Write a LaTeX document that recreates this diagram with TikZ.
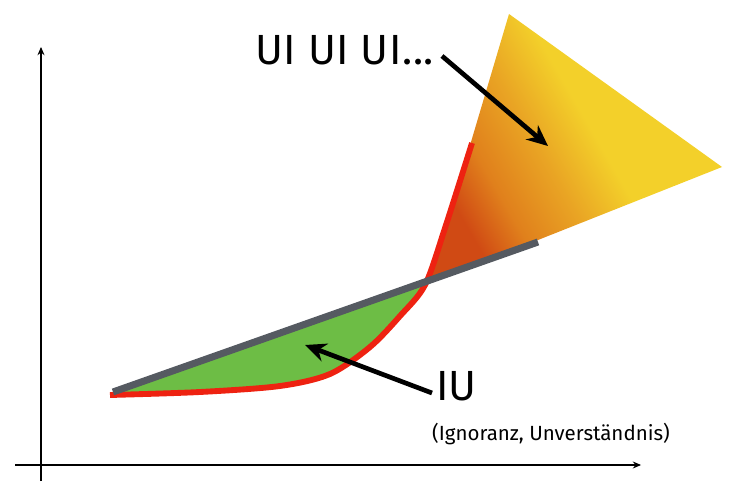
\documentclass[tikz,border=0pt]{standalone}
\usepackage{fontspec}
\setmainfont{Fira Sans}
\usetikzlibrary{arrows.meta, positioning, shadings}
\definecolor{CurveRed}{HTML}{EE2211}
\definecolor{LineGray}{HTML}{555A61}
\definecolor{AreaGreen}{HTML}{6DBD45}
\definecolor{HotYellow}{HTML}{F3D02A}
\definecolor{HotOrange}{HTML}{E9A424}
\definecolor{HotDeep}{HTML}{E0801C}
\definecolor{HotRed}{HTML}{D04A14}
\pgfdeclarehorizontalshading{hotzone}{100bp}{color(0bp)=(HotRed);
  color(26bp)=(HotRed); color(34bp)=(HotDeep); color(44bp)=(HotOrange);
  color(54bp)=(HotYellow); color(100bp)=(HotYellow)}

\begin{document}
\begin{tikzpicture}[x=0.03cm, y=-0.03cm, >=Stealth,
  axis/.style={-{Stealth[length=7pt, width=6pt]}, line width=0.9pt},
  pointer/.style={-{Stealth[length=18pt, width=16pt]}, line width=4pt, black},
  biglabel/.style={inner sep=0pt, font=\fontsize{36}{40}\selectfont},
  spacedlabel/.style={inner sep=0pt,
    font=\fontsize{36}{40}\selectfont\addfontfeatures{LetterSpace=1.5}},
  sublabel/.style={inner sep=0pt, font=\fontsize{17.5}{21}\selectfont}]
  \useasboundingbox (0,0) rectangle (731,482);

  % axes
  \coordinate (origin) at (41,465);
  \coordinate (ytop) at (41,47);
  \coordinate (ybot) at (41,481);
  \coordinate (xleft) at (15,465);
  \coordinate (xright) at (641,465);
  \draw[axis] (ybot) -- (ytop);
  \draw[axis] (xleft) -- (xright);

  % hot zone
  \shade[shading=hotzone, shading angle=30]
    (509,14) -- (722,167) -- (538,240) -- (430,280) -- cycle;

  % area between line and curve
  \begin{scope}
    \clip (113,392) -- (538,242) -- (538,420) -- (100,420) -- cycle;
    \fill[AreaGreen] plot[smooth] coordinates {(110,395) (200,392) (280,386)
      (330,374) (370,347) (400,316) (425,285) (445,228) (472,143)} -- cycle;
  \end{scope}

  % curve and line
  \draw[CurveRed, line width=5pt] plot[smooth] coordinates {(110,395)
    (200,392) (280,386) (330,374) (370,347) (400,316) (425,285) (445,228)
    (472,143)};
  \draw[LineGray, line width=6pt] (113,392) -- (538,242);

  % labels
  \node[spacedlabel, anchor=base west] (ui) at (255,65) {UI UI UI...};
  \node[biglabel, anchor=base west] (iu) at (436,400) {IU};
  \node[sublabel, anchor=base west] (why) at (432,440) {(Ignoranz, Unverständnis)};

  \coordinate (uitail) at (442,56);
  \coordinate (uitip) at (548,146);
  \coordinate (iutail) at (432,393);
  \coordinate (iutip) at (305,345);
  \draw[pointer] (uitail) -- (uitip);
  \draw[pointer] (iutail) -- (iutip);
\end{tikzpicture}
\end{document}
